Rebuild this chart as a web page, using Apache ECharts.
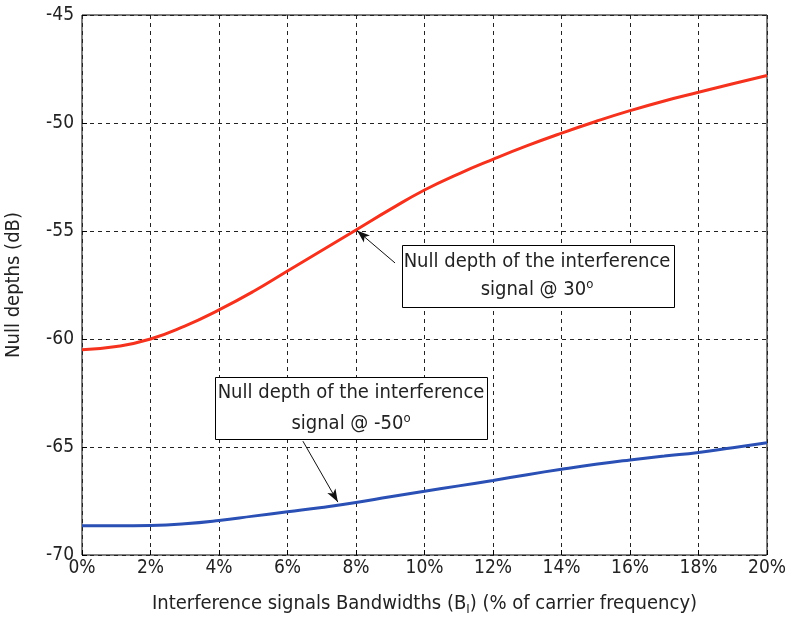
<!DOCTYPE html>
<html>
<head>
<meta charset="utf-8">
<script src="https://cdn.jsdelivr.net/npm/echarts@6/dist/echarts.min.js"></script>
<style>html,body{margin:0;padding:0;background:#fff}#c{width:788px;height:617px}</style>
</head>
<body>
<div id="c"></div>
<script>
const bandwidth = [0,1,2,3,4,5,6,7,8,9,10,11,12,13,14,15,16,17,18,19,20];
const null30 = [-60.5,-60.35,-60.0,-59.4,-58.65,-57.8,-56.85,-55.9,-54.95,-54.0,-53.1,-52.35,-51.68,-51.05,-50.47,-49.93,-49.43,-48.98,-48.58,-48.18,-47.8];
const nullMinus50 = [-68.65,-68.65,-68.63,-68.55,-68.4,-68.2,-68.0,-67.8,-67.57,-67.3,-67.05,-66.8,-66.55,-66.28,-66.03,-65.8,-65.6,-65.42,-65.25,-65.03,-64.8];
const xTicks = [0,2,4,6,8,10,12,14,16,18,20];
const yTicks = [-70,-65,-60,-55,-50,-45];

const FONT = "'Liberation Sans Narrow','Arial Narrow','DejaVu Sans Condensed',sans-serif";
const chart = echarts.init(document.getElementById('c'), null, {renderer:'canvas'});
const pair = (xs, ys) => xs.map((x,i)=>[x, ys[i]]);

chart.setOption({
  animation: false,
  backgroundColor: '#fff',
  grid: {left: 82, top: 15, width: 685, height: 540, containLabel: false, outerBoundsMode: 'none', show: true, borderColor: '#000', borderWidth: 1, backgroundColor: 'transparent'},
  xAxis: {
    type: 'value', min: xTicks[0], max: xTicks[xTicks.length-1], interval: 2,
    name: '{n|Interference signals Bandwidths (B}{s|I}{n|) (% of carrier frequency)}',
    nameLocation: 'middle', nameGap: 36,
    nameTextStyle: {rich: {n: {fontFamily: FONT, fontSize: 20, color: '#222'}, s: {fontFamily: FONT, fontSize: 13, color: '#222', padding: [12,0,0,0]}}},
    axisLine: {show: false},
    axisTick: {show: true, inside: true, length: 5, lineStyle: {color: '#000'}},
    axisLabel: {formatter: '{value}%', fontFamily: FONT, fontSize: 19, color: '#222', margin: 4},
    splitLine: {show: true, lineStyle: {color: '#222', type: [4,4], width: 1}}
  },
  yAxis: {
    type: 'value', min: yTicks[0], max: yTicks[yTicks.length-1], interval: 5,
    name: 'Null depths (dB)', nameLocation: 'middle', nameGap: 58,
    nameTextStyle: {fontFamily: FONT, fontSize: 20, color: '#222'},
    axisLine: {show: false},
    axisTick: {show: true, inside: true, length: 5, lineStyle: {color: '#000'}},
    axisLabel: {fontFamily: FONT, fontSize: 19, color: '#222', margin: 8},
    splitLine: {show: true, lineStyle: {color: '#222', type: [4,4], width: 1}}
  },
  series: [
    {
      type: 'line', data: pair(bandwidth, null30), smooth: 0.5, showSymbol: false,
      lineStyle: {color: '#f5321e', width: 3}, z: 3,
      markLine: {
        silent: true, symbol: ['none', 'arrow'], symbolSize: [7, 13],
        lineStyle: {color: '#111', width: 1, type: 'solid'}, label: {show: false},
        data: [[{coord: [9.14, -56.48]}, {coord: [8.03, -54.98]}]]
      }
    },
    {
      type: 'line', data: pair(bandwidth, nullMinus50), smooth: 0.5, showSymbol: false,
      lineStyle: {color: '#2a4fb5', width: 3}, z: 3,
      markLine: {
        silent: true, symbol: ['none', 'arrow'], symbolSize: [7, 13],
        lineStyle: {color: '#111', width: 1, type: 'solid'}, label: {show: false},
        data: [[{coord: [6.45, -64.73]}, {coord: [7.47, -67.55]}]]
      }
    }
  ],
  graphic: [
    {type: 'rect', shape: {x: 402.5, y: 245.5, width: 272, height: 62}, style: {fill: '#fff', stroke: '#000', lineWidth: 1}, z: 10},
    {type: 'text', x: 537, y: 262, z: 11, style: {text: 'Null depth of the interference', font: '20px ' + FONT, fill: '#222', align: 'center', verticalAlign: 'middle'}},
    {type: 'text', x: 537, y: 290, z: 11, style: {text: '{n|signal @ 30}{s|o}', align: 'center', verticalAlign: 'middle', rich: {n: {fontFamily: FONT, fontSize: 20, fill: '#222'}, s: {fontFamily: FONT, fontSize: 13, fill: '#222', padding: [0,0,10,0]}}}},
    {type: 'rect', shape: {x: 215.5, y: 377.5, width: 272, height: 62}, style: {fill: '#fff', stroke: '#000', lineWidth: 1}, z: 10},
    {type: 'text', x: 351, y: 393, z: 11, style: {text: 'Null depth of the interference', font: '20px ' + FONT, fill: '#222', align: 'center', verticalAlign: 'middle'}},
    {type: 'text', x: 351, y: 424, z: 11, style: {text: '{n|signal @ -50}{s|o}', align: 'center', verticalAlign: 'middle', rich: {n: {fontFamily: FONT, fontSize: 20, fill: '#222'}, s: {fontFamily: FONT, fontSize: 13, fill: '#222', padding: [0,0,10,0]}}}}
  ]
});
</script>
</body>
</html>
